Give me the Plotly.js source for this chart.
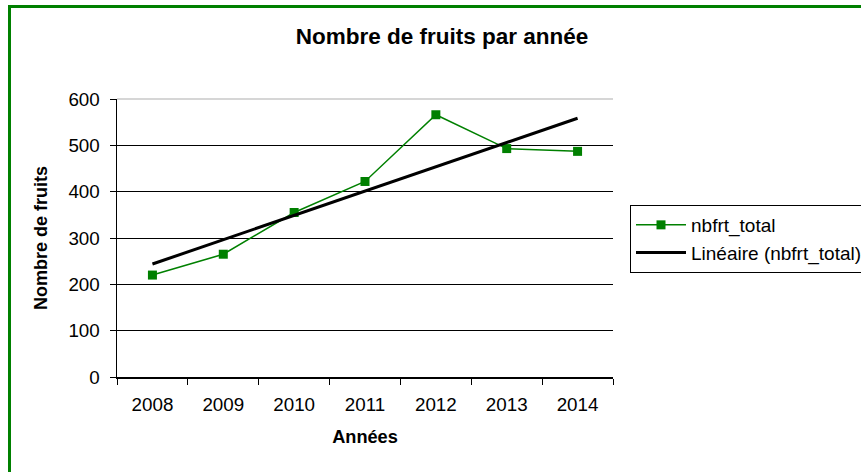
<!DOCTYPE html>
<html>
<head>
<meta charset="utf-8">
<script src="https://cdn.plot.ly/plotly-3.0.1.min.js"></script>
<style>
html,body{margin:0;padding:0;background:#fff;}
#chart{width:861px;height:472px;}
</style>
</head>
<body>
<div id="chart"></div>
<script>
// Data
const years = ["2008","2009","2010","2011","2012","2013","2014"];
const nbfrt_total = [220, 265, 355, 422, 566, 493, 487];
const yTicks = [0,100,200,300,400,500,600];

// Linear trend (least squares) computed from the data
const n = nbfrt_total.length;
const xs = nbfrt_total.map((_, i) => i + 1);
const mx = xs.reduce((a,b)=>a+b,0)/n;
const my = nbfrt_total.reduce((a,b)=>a+b,0)/n;
let sxy = 0, sxx = 0;
for (let i = 0; i < n; i++) { sxy += (xs[i]-mx)*(nbfrt_total[i]-my); sxx += (xs[i]-mx)*(xs[i]-mx); }
const slope = sxy/sxx, icpt = my - slope*mx;
const trend = xs.map(x => icpt + slope*x);

const W = 861, H = 472;
const M = {l:117, r:248, t:99, b:95, autoexpand: false};
const pw = W - M.l - M.r, ph = H - M.t - M.b;
const px = v => (v - M.l)/pw;          // pixel -> paper x
const py = v => (H - M.b - v)/ph;      // pixel -> paper y

const font = "Liberation Sans, Arial, sans-serif";

const traces = [
  {
    x: years, y: nbfrt_total, type: "scatter", mode: "lines+markers",
    name: "nbfrt_total",
    line: {color: "#008000", width: 1.5},
    marker: {symbol: "square", size: 9, color: "#008000"}
  },
  {
    x: years, y: trend, type: "scatter", mode: "lines",
    name: "Linéaire (nbfrt_total)",
    line: {color: "#000000", width: 3}
  }
];

const layout = {
  width: W, height: H,
  margin: M,
  paper_bgcolor: "#ffffff", plot_bgcolor: "#ffffff",
  font: {family: font, size: 18.5, color: "#000"},
  title: {
    text: "<b>Nombre de fruits par année</b>",
    font: {family: font, size: 22.5, color: "#000"},
    x: px(442), xref: "paper", xanchor: "center",
    y: 1 - 36/H, yref: "container", yanchor: "middle"
  },
  xaxis: {
    type: "category",
    range: [-0.5, 6.5],
    tickson: "boundaries",
    ticks: "outside", ticklen: 6, tickcolor: "#000", tickwidth: 1,
    showline: true, linecolor: "#000", linewidth: 1.5,
    showgrid: false, zeroline: false,
    ticklabelstandoff: 10,
    tickfont: {family: font, size: 18.8, color: "#000"},
    title: {text: "<b>Années</b>", font: {family: font, size: 18.2, color: "#000"}, standoff: 16},
    fixedrange: true
  },
  yaxis: {
    range: [0, 600],
    tickvals: yTicks,
    ticktext: yTicks.map(String),
    ticks: "outside", ticklen: 6, tickcolor: "#000", tickwidth: 1,
    showline: true, linecolor: "#000", linewidth: 1.5,
    showgrid: true, gridcolor: "#000", gridwidth: 1,
    zeroline: false,
    ticklabelstandoff: 6,
    tickfont: {family: font, size: 18.8, color: "#000"},
    title: {text: "<b>Nombre de fruits</b>", font: {family: font, size: 18, color: "#000"}, standoff: 16},
    fixedrange: true
  },
  showlegend: true,
  legend: {
    x: px(630), xref: "paper", xanchor: "left",
    y: py(205), yref: "paper", yanchor: "top",
    bordercolor: "#000", borderwidth: 1, bgcolor: "#fff",
    font: {family: font, size: 19, color: "#000"},
    tracegroupgap: 0, itemwidth: 50
  },
  shapes: [
    {type: "line", xref: "paper", yref: "paper", x0: 0, x1: 1, y0: 1, y1: 1,
     line: {color: "#c8c8c8", width: 1.5}, layer: "above"},
    {type: "rect", xref: "paper", yref: "paper",
     x0: px(9.5), x1: px(W + 20), y0: py(6.5), y1: py(H + 20),
     line: {color: "#008000", width: 3}, fillcolor: "rgba(0,0,0,0)", layer: "below"}
  ]
};

Plotly.newPlot("chart", traces, layout, {displayModeBar: false, staticPlot: true});
</script>
</body>
</html>
